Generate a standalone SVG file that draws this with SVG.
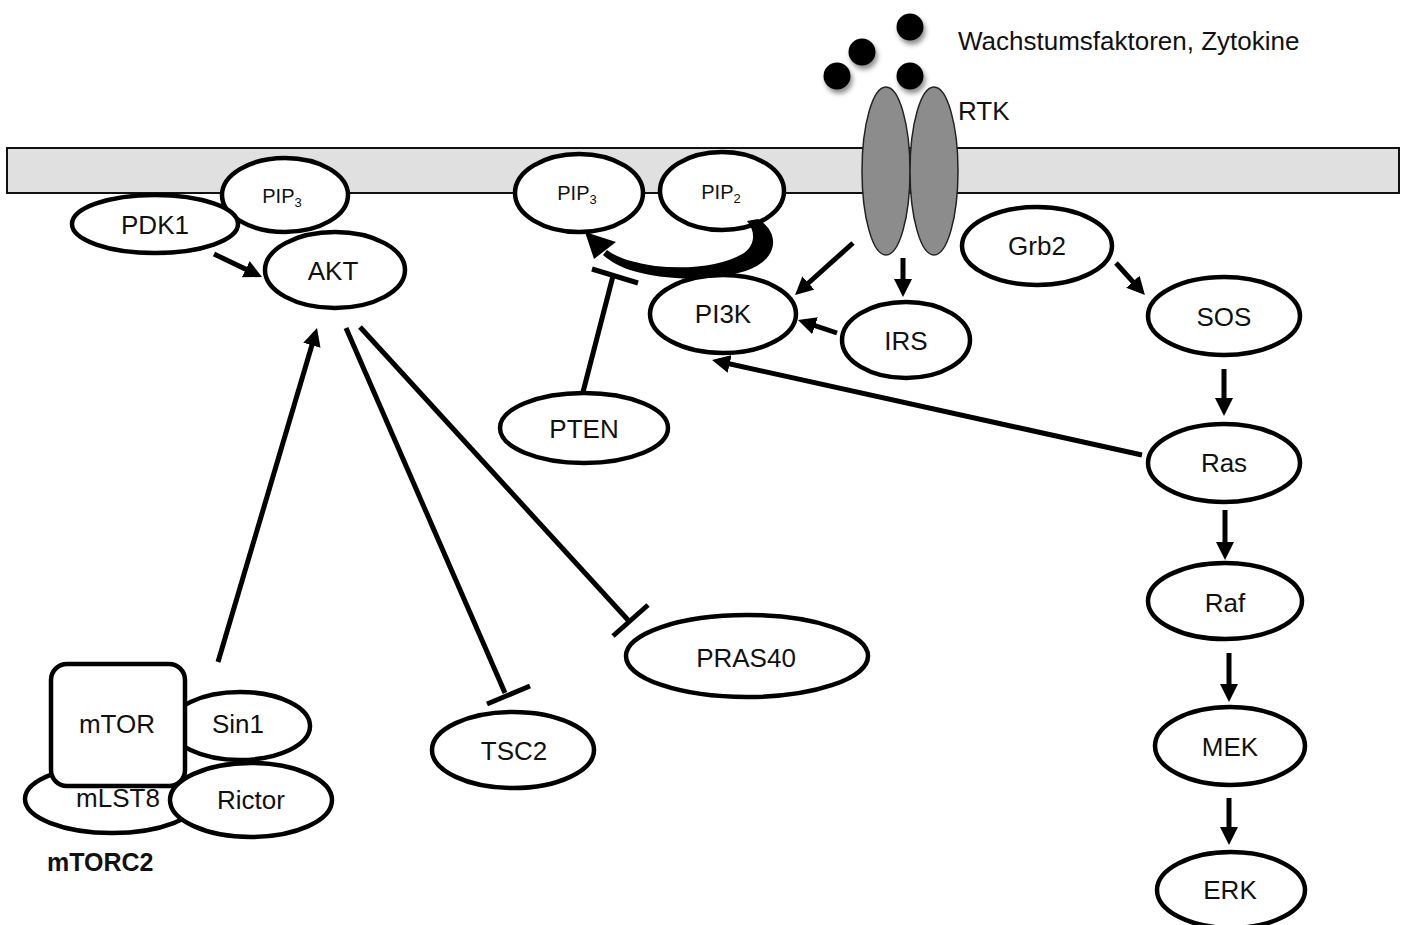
<svg xmlns="http://www.w3.org/2000/svg" width="1405" height="925" viewBox="0 0 1405 925">
  <style>
    .node { fill: #ffffff; stroke: #000000; stroke-width: 4.5; }
    .lbl { font-family: "Liberation Sans", Arial, sans-serif; font-size: 26px; fill: #111111; text-anchor: middle; }
    .small { font-family: "Liberation Sans", Arial, sans-serif; font-size: 20px; fill: #111111; text-anchor: middle; }
    .edge { stroke: #000000; stroke-width: 5; fill: none; }
    .rtk { fill: #8c8c8c; stroke: #222222; stroke-width: 1.5; }
    .ligand { fill: #000000; filter: url(#shadow); }
  </style>
  <defs>
    <marker id="arrow" viewBox="0 0 18 18" markerWidth="18" markerHeight="18" markerUnits="userSpaceOnUse" refX="12" refY="9" orient="auto">
      <path d="M0,0 L18,9 L0,18 Z" fill="#000000"/>
    </marker>
    <filter id="shadow" x="-50%" y="-50%" width="200%" height="200%">
      <feDropShadow dx="2" dy="4" stdDeviation="2.5" flood-color="#000000" flood-opacity="0.45"/>
    </filter>
  </defs>

  <!-- cell membrane -->
  <rect id="membrane" x="7" y="148" width="1392" height="45" fill="#e0e0e0" stroke="#111111" stroke-width="2"/>

  <!-- ligands -->
  <g id="ligands">
    <circle class="ligand" cx="837" cy="76" r="13.5"/>
    <circle class="ligand" cx="862" cy="52" r="13.5"/>
    <circle class="ligand" cx="910" cy="27" r="13.5"/>
    <circle class="ligand" cx="910" cy="76" r="13.5"/>
    <text x="958" y="50" class="lbl" style="text-anchor:start">Wachstumsfaktoren, Zytokine</text>
  </g>

  <!-- receptor tyrosine kinase -->
  <g id="rtk">
    <ellipse class="rtk" cx="886" cy="171" rx="24" ry="84"/>
    <ellipse class="rtk" cx="934" cy="171" rx="24" ry="84"/>
    <text x="958" y="120" class="lbl" style="text-anchor:start">RTK</text>
  </g>

  <!-- membrane lipids -->
  <g id="pip3-left">
    <ellipse class="node" cx="285" cy="195" rx="63" ry="37"/>
    <text x="282" y="203" class="small">PIP<tspan font-size="13" dy="4">3</tspan></text>
  </g>
  <g id="pip3">
    <ellipse class="node" cx="579" cy="193" rx="64" ry="39"/>
    <text x="577" y="200" class="small">PIP<tspan font-size="13" dy="4">3</tspan></text>
  </g>
  <g id="pip2">
    <ellipse class="node" cx="722" cy="191" rx="62" ry="39"/>
    <text x="721" y="199" class="small">PIP<tspan font-size="13" dy="4">2</tspan></text>
  </g>

  <!-- PI3K / AKT branch -->
  <g id="pdk1">
    <ellipse class="node" cx="155" cy="224" rx="83" ry="29"/>
    <text x="155" y="234" class="lbl">PDK1</text>
  </g>
  <g id="akt">
    <ellipse class="node" cx="335" cy="270" rx="70" ry="38"/>
    <text x="333" y="280" class="lbl">AKT</text>
  </g>
  <g id="pi3k">
    <ellipse class="node" cx="723" cy="314" rx="73" ry="39"/>
    <text x="723" y="323" class="lbl">PI3K</text>
  </g>
  <g id="irs">
    <ellipse class="node" cx="906" cy="340" rx="64" ry="38"/>
    <text x="906" y="350" class="lbl">IRS</text>
  </g>
  <g id="pten">
    <ellipse class="node" cx="584" cy="428" rx="84" ry="35"/>
    <text x="584" y="438" class="lbl">PTEN</text>
  </g>
  <g id="tsc2">
    <ellipse class="node" cx="513" cy="750" rx="81" ry="38"/>
    <text x="514" y="760" class="lbl">TSC2</text>
  </g>
  <g id="pras40">
    <ellipse class="node" cx="747" cy="656" rx="121" ry="41"/>
    <text x="746" y="667" class="lbl">PRAS40</text>
  </g>

  <!-- MAPK branch -->
  <g id="grb2">
    <ellipse class="node" cx="1037" cy="246" rx="75" ry="39"/>
    <text x="1037" y="255" class="lbl">Grb2</text>
  </g>
  <g id="sos">
    <ellipse class="node" cx="1224" cy="316" rx="76" ry="39"/>
    <text x="1224" y="326" class="lbl">SOS</text>
  </g>
  <g id="ras">
    <ellipse class="node" cx="1224" cy="463" rx="76" ry="39"/>
    <text x="1224" y="472" class="lbl">Ras</text>
  </g>
  <g id="raf">
    <ellipse class="node" cx="1225" cy="601" rx="77" ry="38"/>
    <text x="1225" y="612" class="lbl">Raf</text>
  </g>
  <g id="mek">
    <ellipse class="node" cx="1230" cy="746" rx="75" ry="39"/>
    <text x="1230" y="756" class="lbl">MEK</text>
  </g>
  <g id="erk">
    <ellipse class="node" cx="1231" cy="890" rx="74" ry="38"/>
    <text x="1230" y="899" class="lbl">ERK</text>
  </g>

  <!-- mTORC2 complex -->
  <g id="mtorc2">
    <ellipse class="node" cx="112" cy="799" rx="87" ry="34"/>
    <ellipse class="node" cx="240" cy="726" rx="70" ry="34"/>
    <ellipse class="node" cx="251" cy="800" rx="81" ry="37"/>
    <rect class="node" x="51" y="664" width="134" height="122" rx="16" ry="16"/>
    <text x="117" y="733" class="lbl">mTOR</text>
    <text x="238" y="733" class="lbl">Sin1</text>
    <text x="118" y="807" class="lbl">mLST8</text>
    <text x="251" y="809" class="lbl">Rictor</text>
    <text x="47" y="871" class="lbl" style="text-anchor:start;font-weight:bold;font-size:25px">mTORC2</text>
  </g>

  <!-- connectors -->
  <g id="connectors">
    <!-- activation -->
    <line class="edge" x1="214" y1="254" x2="256.6" y2="274.4" marker-end="url(#arrow)"/>
    <line class="edge" x1="218" y1="662" x2="315.3" y2="333.8" marker-end="url(#arrow)"/>
    <line class="edge" x1="853" y1="243" x2="799.5" y2="291" marker-end="url(#arrow)"/>
    <line class="edge" x1="903" y1="258" x2="903" y2="291" marker-end="url(#arrow)"/>
    <line class="edge" x1="837" y1="333" x2="803.7" y2="321.9" marker-end="url(#arrow)"/>
    <line class="edge" x1="1142" y1="455" x2="717.9" y2="361.3" marker-end="url(#arrow)"/>
    <line class="edge" x1="1116" y1="263" x2="1140.9" y2="290.6" marker-end="url(#arrow)"/>
    <line class="edge" x1="1224" y1="369" x2="1224" y2="410" marker-end="url(#arrow)"/>
    <line class="edge" x1="1225" y1="510" x2="1225" y2="554" marker-end="url(#arrow)"/>
    <line class="edge" x1="1229" y1="653" x2="1229" y2="696" marker-end="url(#arrow)"/>
    <line class="edge" x1="1229" y1="798" x2="1229" y2="839" marker-end="url(#arrow)"/>

    <!-- PIP2 to PIP3 conversion (tapered curve) -->
    <path d="M 758 219 C 782 234, 778 262, 742 272 C 712 281, 665 281, 630 270 C 618 266, 610 261, 603 255 L 607 250 C 616 257, 630 262, 655 266 C 690 270, 725 265, 744 253 C 755 245, 756 232, 747 221 Z" fill="#000000"/>
    <polygon points="585,232 616,242 594,259" fill="#000000"/>

    <!-- inhibition -->
    <line class="edge" x1="583" y1="392" x2="613" y2="276"/>
    <line class="edge" x1="592" y1="269" x2="638" y2="283"/>
    <line class="edge" x1="346" y1="328" x2="505" y2="693"/>
    <line class="edge" x1="487" y1="704" x2="530" y2="686"/>
    <line class="edge" x1="360" y1="327" x2="628" y2="620"/>
    <line class="edge" x1="613" y1="636" x2="648" y2="605"/>
  </g>
</svg>
